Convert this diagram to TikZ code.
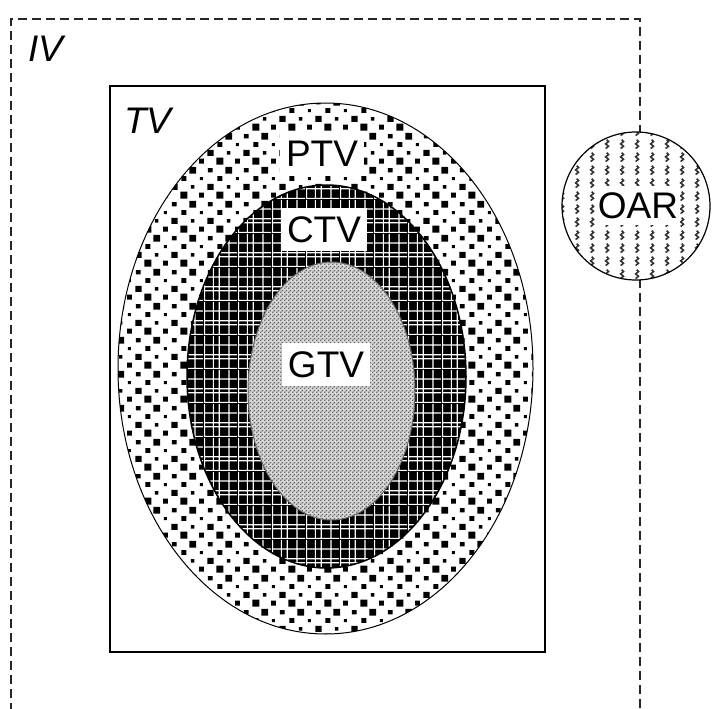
\documentclass[tikz,border=0pt]{standalone}
\usepackage{fontspec}
\setmainfont{Liberation Sans}
\usetikzlibrary{patterns,shapes.geometric}

% PTV: scattered black squares of varying size on white (quincunx ~8.5px)
\pgfdeclarepatternformonly{ptvsq}{\pgfpointorigin}{\pgfpoint{36pt}{34pt}}{\pgfpoint{36pt}{34pt}}{%
  \pgfpathrectangle{\pgfpoint{0.5pt}{0.5pt}}{\pgfpoint{7pt}{7pt}}%
  \pgfpathrectangle{\pgfpoint{19.5pt}{1.5pt}}{\pgfpoint{5pt}{5pt}}%
  \pgfpathrectangle{\pgfpoint{11.25pt}{10.75pt}}{\pgfpoint{3.5pt}{3.5pt}}%
  \pgfpathrectangle{\pgfpoint{28pt}{9.5pt}}{\pgfpoint{6.5pt}{6pt}}%
  \pgfpathrectangle{\pgfpoint{1.5pt}{18.5pt}}{\pgfpoint{5pt}{5pt}}%
  \pgfpathrectangle{\pgfpoint{20.5pt}{19.5pt}}{\pgfpoint{3pt}{3pt}}%
  \pgfpathrectangle{\pgfpoint{9.5pt}{26pt}}{\pgfpoint{7pt}{7pt}}%
  \pgfpathrectangle{\pgfpoint{28.5pt}{27.25pt}}{\pgfpoint{5pt}{4.5pt}}%
  \pgfusepath{fill}}

% CTV: irregular white grid lines (drawn on black)
\pgfdeclarepatternformonly{ctvgrid}{\pgfpointorigin}{\pgfpoint{34pt}{34pt}}{\pgfpoint{34pt}{34pt}}{%
  \pgfpathrectangle{\pgfpoint{0pt}{0pt}}{\pgfpoint{1.2pt}{34pt}}%
  \pgfpathrectangle{\pgfpoint{9pt}{0pt}}{\pgfpoint{1.2pt}{34pt}}%
  \pgfpathrectangle{\pgfpoint{15pt}{0pt}}{\pgfpoint{1.2pt}{34pt}}%
  \pgfpathrectangle{\pgfpoint{25pt}{0pt}}{\pgfpoint{1.2pt}{34pt}}%
  \pgfpathrectangle{\pgfpoint{0pt}{0pt}}{\pgfpoint{34pt}{1.2pt}}%
  \pgfpathrectangle{\pgfpoint{0pt}{10pt}}{\pgfpoint{34pt}{1.2pt}}%
  \pgfpathrectangle{\pgfpoint{0pt}{14pt}}{\pgfpoint{34pt}{1.2pt}}%
  \pgfpathrectangle{\pgfpoint{0pt}{24pt}}{\pgfpoint{34pt}{1.2pt}}%
  \pgfusepath{fill}}

% GTV: fine dot checker
\pgfdeclarepatternformonly{gtvdots}{\pgfpointorigin}{\pgfpoint{4pt}{4pt}}{\pgfpoint{4pt}{4pt}}{%
  \pgfpathrectangle{\pgfpoint{0pt}{0pt}}{\pgfpoint{1.8pt}{1.8pt}}%
  \pgfpathrectangle{\pgfpoint{2pt}{2pt}}{\pgfpoint{1.8pt}{1.8pt}}%
  \pgfusepath{fill}}

% OAR: small squiggle marks
\pgfdeclarepatternformonly{oarmark}{\pgfpointorigin}{\pgfpoint{15pt}{13pt}}{\pgfpoint{15pt}{13pt}}{%
  \pgfsetlinewidth{1.7pt}%
  \pgfpathmoveto{\pgfpoint{6pt}{1.5pt}}%
  \pgfpathlineto{\pgfpoint{9pt}{4pt}}%
  \pgfpathlineto{\pgfpoint{6pt}{6.5pt}}%
  \pgfpathlineto{\pgfpoint{9pt}{9pt}}%
  \pgfpathlineto{\pgfpoint{7pt}{11pt}}%
  \pgfusepath{stroke}}

\begin{document}
\begin{tikzpicture}[x=1pt,y=-1pt,
  lbl/.style={fill=white, inner xsep=6pt, inner ysep=8pt, text height=27pt, text depth=0pt,
    font=\fontsize{37}{40}\selectfont},
  ital/.style={inner sep=0pt, anchor=base west, font=\fontsize{37}{40}\selectfont\itshape},
  zone/.style={ellipse, inner sep=0pt, draw=black, line width=1pt},
  ivline/.style={draw=black!85, line width=1.6pt, dash pattern=on 9pt off 5pt},
  tvbox/.style={draw=black, line width=1.8pt, inner sep=0pt}]
\useasboundingbox (0,0) rectangle (712,709);
\fill[white] (0,0) rectangle (712,709);

% IV: irradiated volume (dashed, open at the bottom)
\coordinate (ivbl) at (11,712);
\coordinate (ivtl) at (11,19);
\coordinate (ivtr) at (640,19);
\coordinate (ivbr) at (640,712);
\draw[ivline] (ivbl) -- (ivtl) -- (ivtr) -- (ivbr);
\node[ital] (ivlbl) at (28,62) {IV};

% TV: treated volume
\node[tvbox, minimum width=435pt, minimum height=566pt] (tv) at (327.5,369) {};
\node[ital] (tvlbl) at (124,133) {TV};

% nested target volumes
\node[zone, minimum width=415pt, minimum height=531pt, preaction={fill=white},
  pattern=ptvsq] (ptv) at (325.5,368.5) {};
\node[zone, line width=1.5pt, minimum width=279pt, minimum height=383pt, preaction={fill=black},
  pattern=ctvgrid, pattern color=white] (ctv) at (326.5,376.5) {};
\node[zone, draw=black!60, minimum width=167pt, minimum height=258pt, preaction={fill=black!15},
  pattern=gtvdots, pattern color=black!58] (gtv) at (331.5,391) {};

\node[lbl] (ptvlbl) at (322,153) {PTV};
\node[lbl] (ctvlbl) at (324,229) {CTV};
\node[lbl] (gtvlbl) at (326,364) {GTV};

% OAR: organ at risk
\node[circle, draw=black, line width=1.2pt, minimum size=148pt, inner sep=0pt,
  preaction={fill=white}, pattern=oarmark, pattern color=black!80] (oar) at (636,206) {};
\node[lbl, inner xsep=2pt, inner ysep=6pt] (oarlbl) at (638,205) {OAR};
\end{tikzpicture}
\end{document}
